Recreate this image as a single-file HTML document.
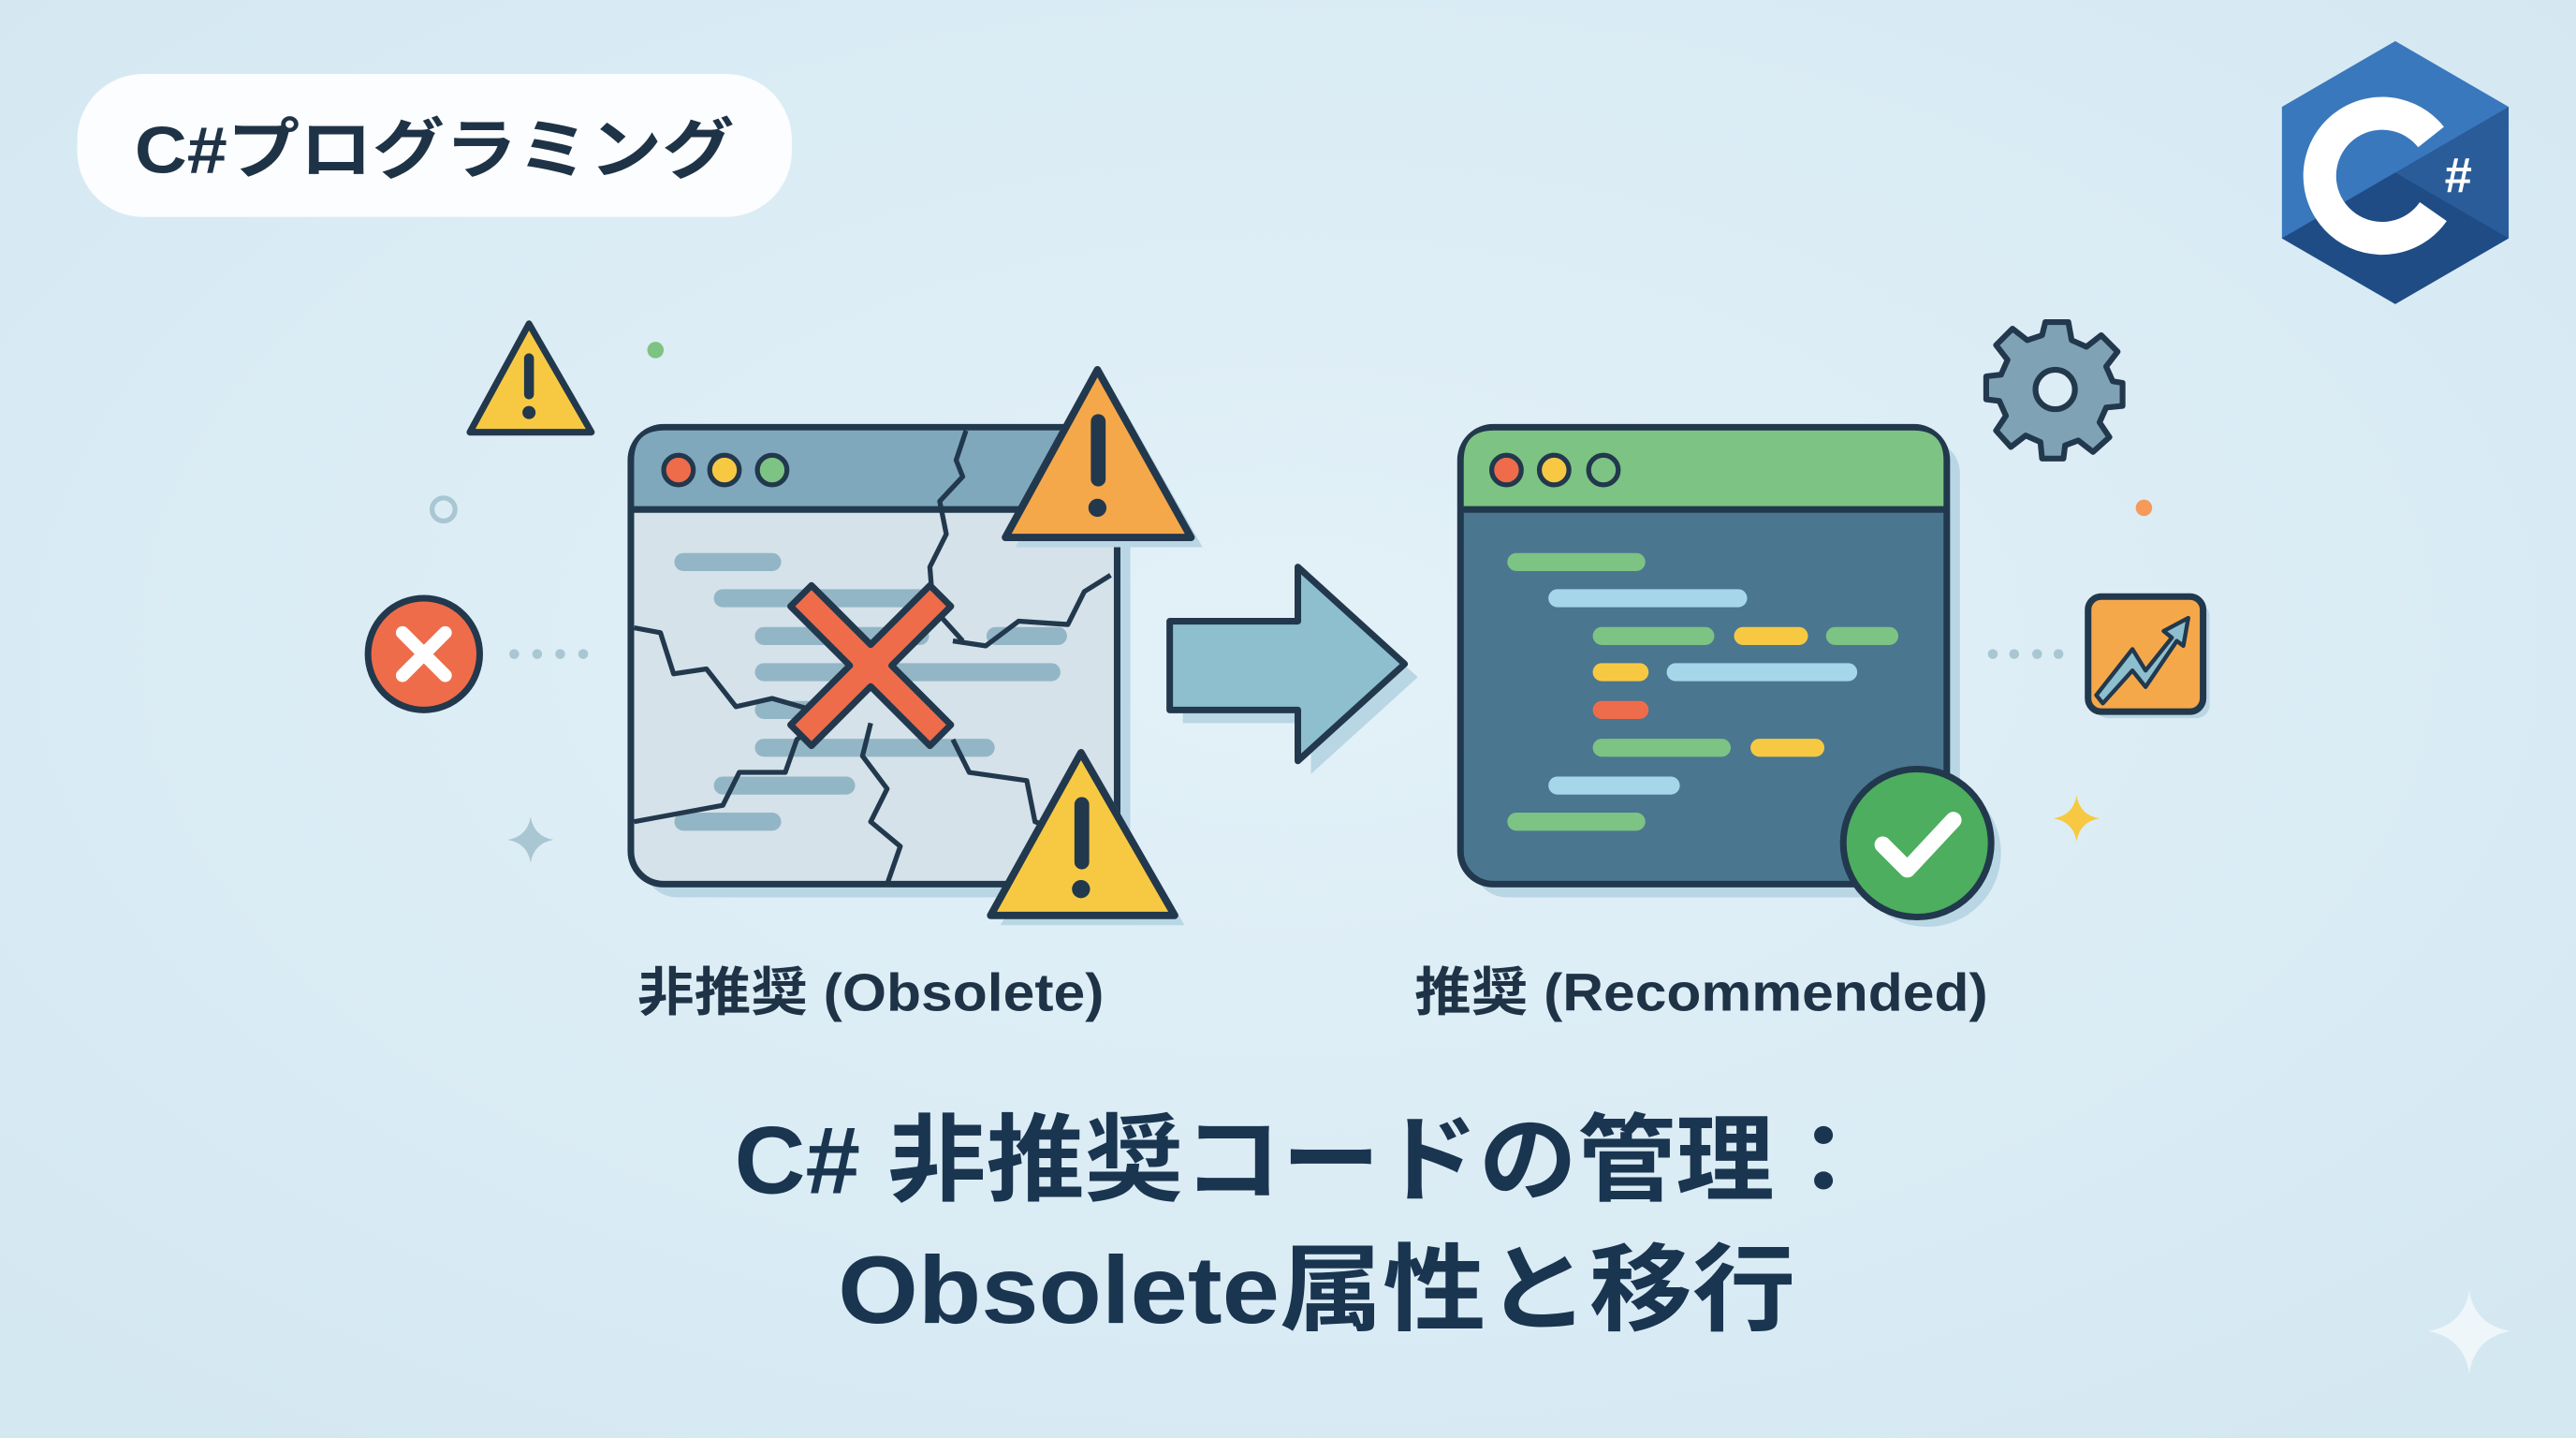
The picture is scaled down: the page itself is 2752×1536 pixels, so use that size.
<!DOCTYPE html>
<html><head><meta charset="utf-8"><style>
html,body{margin:0;padding:0;background:#dcedf5;}
svg{display:block;}
text{font-family:"Liberation Sans","Noto Sans CJK JP",sans-serif;}
</style></head><body>
<svg width="2752" height="1536" viewBox="0 0 1568 875" preserveAspectRatio="none" xmlns="http://www.w3.org/2000/svg">
<defs>
<radialGradient id="bg" cx="50%" cy="45%" r="70%"><stop offset="0" stop-color="#e3f1f8"/><stop offset="1" stop-color="#d4e8f2"/></radialGradient>
</defs>
<rect width="1568" height="875" fill="url(#bg)"/>

<rect x="47" y="45" width="435" height="87" rx="40" fill="#fbfdfe"/>
<text x="82" y="105" font-size="40" font-weight="bold" fill="#1f3347" textLength="365" lengthAdjust="spacingAndGlyphs">C#プログラミング</text>

<g transform="translate(1458,105)">
<polygon points="0,-80 69,-40 69,40 0,80 -69,40 -69,-40" fill="#3a78bd"/>
<polygon points="0,0 69,-40 69,40 0,80 -69,40" fill="#2a5c9a"/>
<polygon points="0,0 69,40 0,80 -69,40" fill="#1f4c85"/>
<circle cx="-8" cy="2" r="38" fill="none" stroke="#ffffff" stroke-width="20" stroke-dasharray="190 60" transform="rotate(35 -8 2)"/>
<text x="30" y="12" font-size="30" font-weight="bold" fill="#fff">#</text>
</g>

<polygon points="322,197 286,263 360,263" fill="#f7c942" stroke="#22384d" stroke-width="4" stroke-linejoin="round"/>
<rect x="319" y="215" width="6" height="28" rx="3" fill="#22384d"/><circle cx="322" cy="251" r="4" fill="#22384d"/>
<circle cx="399" cy="213" r="5" fill="#7dc383"/>
<circle cx="270" cy="310" r="7" fill="none" stroke="#a9c6d3" stroke-width="3"/>
<circle cx="258" cy="398" r="34" fill="#ef6c4a" stroke="#22384d" stroke-width="4"/>
<path d="M245,385 L271,411 M271,385 L245,411" stroke="#fff" stroke-width="8" stroke-linecap="round"/>
<g fill="#a9c6d3"><circle cx="313" cy="398" r="3"/><circle cx="327" cy="398" r="3"/><circle cx="341" cy="398" r="3"/><circle cx="355" cy="398" r="3"/></g>
<path d="M323,497 Q325,509 337,511 Q325,513 323,525 Q321,513 309,511 Q321,509 323,497Z" fill="#a9c6d3"/>

<rect x="392" y="268" width="296" height="278" rx="20" fill="#b9d6e4"/>
<rect x="384" y="260" width="296" height="278" rx="20" fill="#d5e2ea" stroke="#22384d" stroke-width="4"/>
<path d="M386,310 V280 Q386,262 404,262 H660 Q678,262 678,280 V310Z" fill="#7fa8bd"/>
<line x1="384" y1="310" x2="680" y2="310" stroke="#22384d" stroke-width="4"/>
<circle cx="413" cy="286" r="9" fill="#ef6c4a" stroke="#22384d" stroke-width="3"/>
<circle cx="441" cy="286" r="9" fill="#f7c942" stroke="#22384d" stroke-width="3"/>
<circle cx="470" cy="286" r="9" fill="#7dc383" stroke="#22384d" stroke-width="3"/>
<g stroke="#93b6c6" stroke-width="11" stroke-linecap="round">
<line x1="416" y1="342" x2="470" y2="342"/><line x1="440" y1="364" x2="565" y2="364"/>
<line x1="465" y1="387" x2="560" y2="387"/><line x1="606" y1="387" x2="644" y2="387"/>
<line x1="465" y1="409" x2="640" y2="409"/><line x1="465" y1="432" x2="500" y2="432"/>
<line x1="465" y1="455" x2="600" y2="455"/><line x1="440" y1="478" x2="515" y2="478"/>
<line x1="416" y1="500" x2="470" y2="500"/>
</g>
<g fill="none" stroke="#22384d" stroke-width="3" stroke-linejoin="round">
<polyline points="588,262 582,280 586,290 572,305 576,325 566,345 568,370 586,390"/>
<polyline points="386,382 402,385 410,410 430,407 448,430 470,425 505,435"/>
<polyline points="676,350 660,360 650,380 620,378 600,393 580,390"/>
<polyline points="505,435 485,450 478,470 450,470 440,490 386,500"/>
<polyline points="530,440 525,460 540,480 530,500 548,515 540,538"/>
<polyline points="580,450 590,470 625,475 630,500 660,510"/>
</g>
<g transform="translate(530,405) rotate(45)">
<path d="M-9,-60 H9 V-9 H60 V9 H9 V60 H-9 V9 H-60 V-9 H-9Z" fill="#ef6c4a" stroke="#22384d" stroke-width="4" stroke-linejoin="round"/>
</g>
<polygon points="674,231 732,333 618,333" fill="#b9d6e4"/>
<polygon points="668,225 725,327 612,327" fill="#f5a84a" stroke="#22384d" stroke-width="4.5" stroke-linejoin="round"/>
<rect x="664" y="252" width="9" height="44" rx="4.5" fill="#22384d"/><circle cx="668" cy="309" r="5.5" fill="#22384d"/>
<polygon points="664,464 721,563 609,563" fill="#b9d6e4"/>
<polygon points="658,458 715,557 603,557" fill="#f7c942" stroke="#22384d" stroke-width="4.5" stroke-linejoin="round"/>
<rect x="654" y="485" width="9" height="44" rx="4.5" fill="#22384d"/><circle cx="658" cy="541" r="5.5" fill="#22384d"/>

<polygon points="720,386 798,386 798,353 863,412 798,471 798,440 720,440" fill="#b9d6e4"/>
<polygon points="712,378 790,378 790,345 855,404 790,463 790,432 712,432" fill="#8ebfce" stroke="#22384d" stroke-width="4" stroke-linejoin="round"/>

<rect x="897" y="268" width="296" height="278" rx="20" fill="#b9d6e4"/>
<rect x="889" y="260" width="296" height="278" rx="20" fill="#4a7690" stroke="#22384d" stroke-width="4"/>
<path d="M891,310 V280 Q891,262 909,262 H1165 Q1183,262 1183,280 V310Z" fill="#7dc383"/>
<line x1="889" y1="310" x2="1185" y2="310" stroke="#22384d" stroke-width="4"/>
<circle cx="917" cy="286" r="9" fill="#ef6c4a" stroke="#22384d" stroke-width="3"/>
<circle cx="946" cy="286" r="9" fill="#f7c942" stroke="#22384d" stroke-width="3"/>
<circle cx="976" cy="286" r="9" fill="#7dc383" stroke="#22384d" stroke-width="3"/>
<g stroke-width="11" stroke-linecap="round">
<line x1="923" y1="342" x2="996" y2="342" stroke="#7dc383"/>
<line x1="948" y1="364" x2="1058" y2="364" stroke="#a6d6ea"/>
<line x1="975" y1="387" x2="1038" y2="387" stroke="#7dc383"/>
<line x1="1061" y1="387" x2="1095" y2="387" stroke="#f7c942"/>
<line x1="1117" y1="387" x2="1150" y2="387" stroke="#7dc383"/>
<line x1="975" y1="409" x2="998" y2="409" stroke="#f7c942"/>
<line x1="1020" y1="409" x2="1125" y2="409" stroke="#a6d6ea"/>
<line x1="975" y1="432" x2="998" y2="432" stroke="#ef6c4a"/>
<line x1="975" y1="455" x2="1048" y2="455" stroke="#7dc383"/>
<line x1="1071" y1="455" x2="1105" y2="455" stroke="#f7c942"/>
<line x1="948" y1="478" x2="1017" y2="478" stroke="#a6d6ea"/>
<line x1="923" y1="500" x2="996" y2="500" stroke="#7dc383"/>
</g>
<circle cx="1173" cy="519" r="45" fill="#b9d6e4"/>
<circle cx="1167" cy="513" r="45" fill="#4cae5e" stroke="#22384d" stroke-width="4"/>
<path d="M1146,514 L1161,529 L1189,499" fill="none" stroke="#fff" stroke-width="10" stroke-linecap="round" stroke-linejoin="round"/>

<g transform="translate(1252,235)">
<g fill="#7fa3b5" stroke="#22384d" stroke-width="3.5" stroke-linejoin="round">
<path d="M-7,-39 H7 L9,-28 L18,-24 L27,-31 L37,-21 L30,-12 L34,-3 L40,-2 V12 L30,13 L26,22 L32,31 L22,40 L13,33 L5,36 L4,44 H-9 L-10,34 L-19,30 L-28,37 L-37,27 L-31,18 L-35,9 L-43,8 V-6 L-34,-7 L-30,-16 L-37,-25 L-27,-35 L-18,-28 L-9,-31Z"/>
</g>
<circle cx="-1" cy="2" r="12" fill="#dcedf5" stroke="#22384d" stroke-width="3.5"/>
</g>

<circle cx="1305" cy="309" r="5" fill="#f59a5a"/>
<g fill="#a9c6d3"><circle cx="1213" cy="398" r="3"/><circle cx="1226" cy="398" r="3"/><circle cx="1240" cy="398" r="3"/><circle cx="1253" cy="398" r="3"/></g>
<rect x="1275" y="367" width="70" height="70" rx="8" fill="#b9d6e4"/>
<rect x="1271" y="363" width="70" height="70" rx="8" fill="#f5a84a" stroke="#22384d" stroke-width="4"/>
<path d="M1276,423 L1298,395 L1306,408 L1322,388 L1317,384 L1332,376 L1329,393 L1325,390 L1306,418 L1298,408 L1280,428Z" fill="#8ebfce" stroke="#22384d" stroke-width="2.5" stroke-linejoin="round"/>
<path d="M1264,484 Q1266,496 1278,498 Q1266,500 1264,512 Q1262,500 1250,498 Q1262,496 1264,484Z" fill="#f7c942"/>
<path d="M1503,785 Q1506,806 1528,810 Q1506,814 1503,836 Q1500,814 1478,810 Q1500,806 1503,785Z" fill="#eef6fa"/>

<text x="388" y="615" font-size="32" font-weight="bold" fill="#1f3347" textLength="284" lengthAdjust="spacingAndGlyphs">非推奨 (Obsolete)</text>
<text x="861" y="615" font-size="32" font-weight="bold" fill="#1f3347" textLength="349" lengthAdjust="spacingAndGlyphs">推奨 (Recommended)</text>

<text x="447" y="726" font-size="58" font-weight="bold" fill="#1a3550" textLength="693" lengthAdjust="spacingAndGlyphs">C# 非推奨コードの管理：</text>
<text x="510" y="805" font-size="58" font-weight="bold" fill="#1a3550" textLength="583" lengthAdjust="spacingAndGlyphs">Obsolete属性と移行</text>
</svg>
</body></html>
